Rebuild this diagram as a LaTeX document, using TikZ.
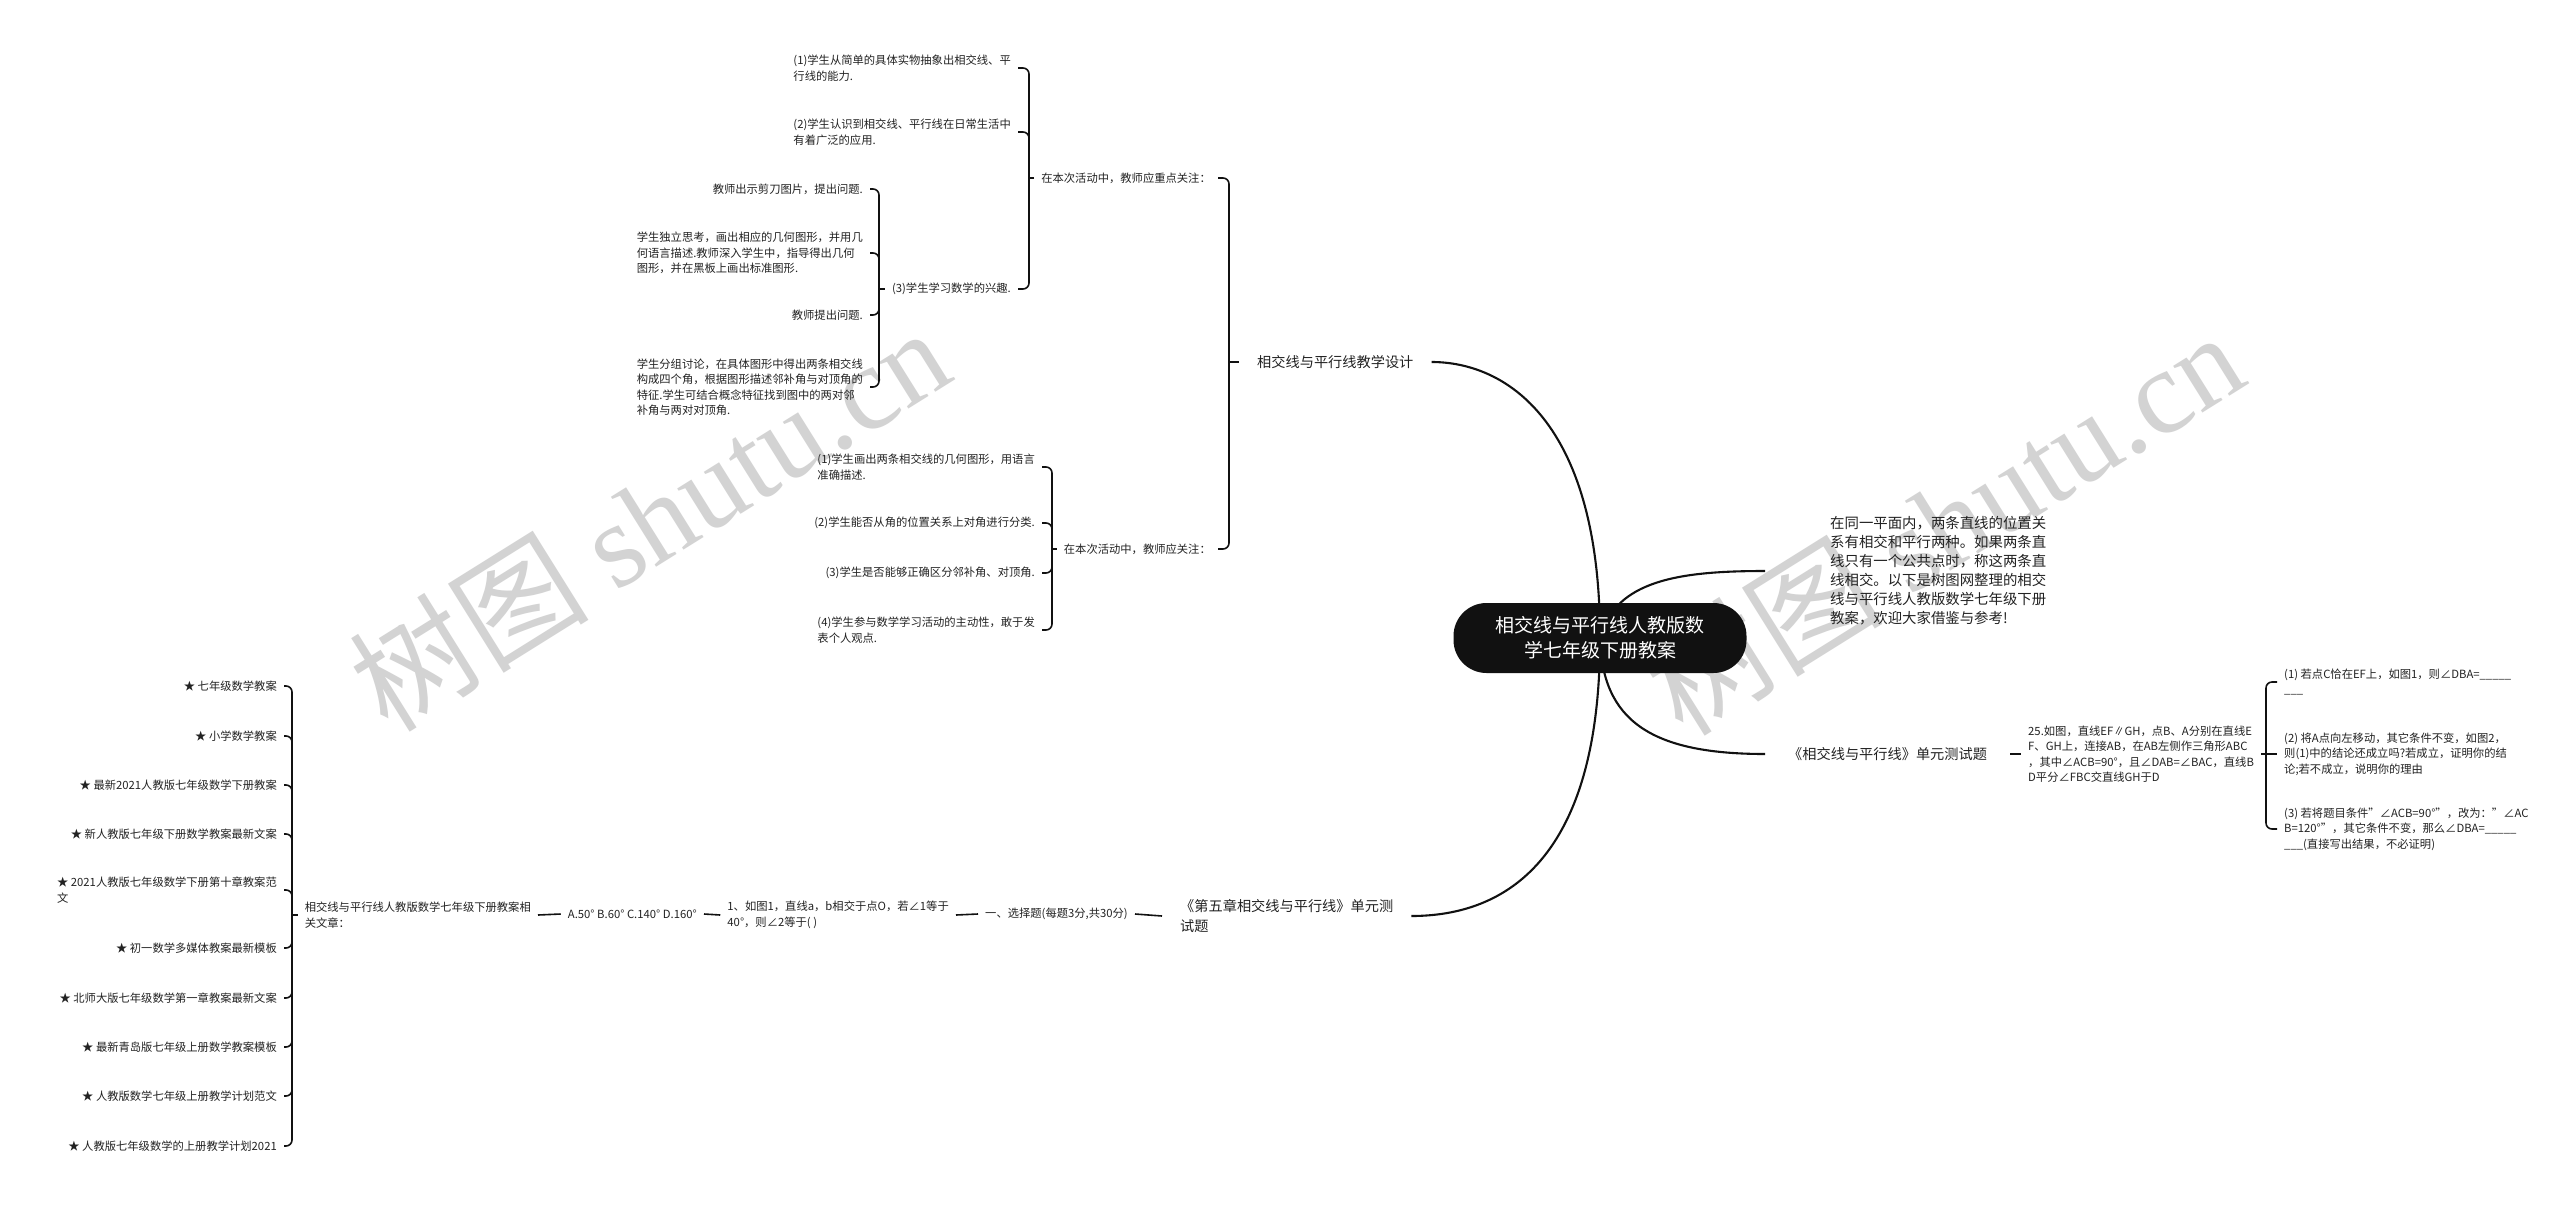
\documentclass[tikz,border=0pt]{standalone}
\usepackage{fontspec}
\setmainfont{Noto Sans CJK SC}
\newfontfamily\wmserif{Liberation Serif}
\definecolor{txt}{HTML}{222222}
\definecolor{ln}{HTML}{111111}
\definecolor{rootc}{HTML}{111111}
\definecolor{wm}{HTML}{D3D3D3}
\begin{document}
\begin{tikzpicture}[x=1pt,y=-1pt,
  sm/.style={font=\fontsize{11.3}{15.5}\selectfont, text=txt, inner xsep=7pt, inner ysep=2pt},
  smL/.style={sm, align=left},
  smR/.style={sm, align=right},
  big/.style={font=\fontsize{14.2}{19.5}\selectfont, text=txt, inner xsep=18pt, inner ysep=2pt, align=left},
  conn/.style={line width=1.6pt, draw=ln},
  hook/.style={conn, rounded corners=6pt},
  main/.style={line width=2.1pt, draw=ln},
  rootbox/.style={fill=rootc, text=white, rounded corners=33pt, minimum width=293pt, minimum height=70pt, align=center, font=\fontsize{19}{25}\selectfont, inner sep=0pt},
  wmark/.style={rotate=32, text=wm, font=\fontsize{120}{120}\selectfont, inner sep=0pt}
]
\useasboundingbox[fill=white] (0,0) rectangle (2560,1205);

% watermarks
\node[wmark] (wm1) at (649,518) {树图 {\wmserif shutu.cn}};
\node[wmark] (wm2) at (1943,522) {树图 {\wmserif shutu.cn}};

% ---------- branch A ----------
\node[big, anchor=west] (A) at (1239,362) {相交线与平行线教学设计};
\node[smR, anchor=east] (A1) at (1218,178) {在本次活动中，教师应重点关注：};
\node[smR, anchor=east] (A2) at (1218,549) {在本次活动中，教师应关注：};

\node[smL, anchor=east] (A1a) at (1018,68) {(1)学生从简单的具体实物抽象出相交线、平\\行线的能力.};
\node[smL, anchor=east] (A1b) at (1018,132) {(2)学生认识到相交线、平行线在日常生活中\\有着广泛的应用.};
\node[smR, anchor=east] (A1c) at (1018,289) {(3)学生学习数学的兴趣.};

\node[smR, anchor=east] (A1c1) at (870,189) {教师出示剪刀图片，提出问题.};
\node[smL, anchor=east] (A1c2) at (870,253) {学生独立思考，画出相应的几何图形，并用几\\何语言描述.教师深入学生中，指导得出几何\\图形，并在黑板上画出标准图形.};
\node[smR, anchor=east] (A1c3) at (870,315) {教师提出问题.};
\node[smL, anchor=east] (A1c4) at (870,387) {学生分组讨论，在具体图形中得出两条相交线\\构成四个角，根据图形描述邻补角与对顶角的\\特征.学生可结合概念特征找到图中的两对邻\\补角与两对对顶角.};

\node[smL, anchor=east] (A2a) at (1042,467) {(1)学生画出两条相交线的几何图形，用语言\\准确描述.};
\node[smR, anchor=east] (A2b) at (1042,523) {(2)学生能否从角的位置关系上对角进行分类.};
\node[smR, anchor=east] (A2c) at (1042,573) {(3)学生是否能够正确区分邻补角、对顶角.};
\node[smL, anchor=east] (A2d) at (1042,630) {(4)学生参与数学学习活动的主动性，敢于发\\表个人观点.};

\coordinate (tA) at (1229,362);
\coordinate (tA1) at (1029,178);
\coordinate (tA1c) at (879,289);
\coordinate (tA2) at (1052,549);

\draw[conn] (A.west) -- (tA);
\draw[hook] (tA) |- (A1.east);
\draw[hook] (tA) |- (A2.east);

\draw[conn] (A1.west) -- (tA1);
\draw[hook] (tA1) |- (A1a.east);
\draw[hook] (tA1) |- (A1b.east);
\draw[hook] (tA1) |- (A1c.east);

\draw[conn] (A1c.west) -- (tA1c);
\draw[hook] (tA1c) |- (A1c1.east);
\draw[hook] (tA1c) |- (A1c2.east);
\draw[hook] (tA1c) |- (A1c3.east);
\draw[hook] (tA1c) |- (A1c4.east);

\draw[conn] (A2.west) -- (tA2);
\draw[hook] (tA2) |- (A2a.east);
\draw[hook] (tA2) |- (A2b.east);
\draw[hook] (tA2) |- (A2c.east);
\draw[hook] (tA2) |- (A2d.east);

% ---------- intro ----------
\node[font=\fontsize{14.4}{19}\selectfont, text=txt, align=left, anchor=west, inner xsep=65pt, inner ysep=2pt] (intro) at (1765,571) {在同一平面内，两条直线的位置关\\系有相交和平行两种。如果两条直\\线只有一个公共点时，称这两条直\\线相交。以下是树图网整理的相交\\线与平行线人教版数学七年级下册\\教案，欢迎大家借鉴与参考!};

% ---------- branch C ----------
\node[big, anchor=west, inner xsep=23pt] (C) at (1765,754) {《相交线与平行线》单元测试题};
\node[smL, anchor=west] (C1) at (2021,754) {25.如图，直线EF∥GH，点B、A分别在直线E\\F、GH上，连接AB，在AB左侧作三角形ABC\\，其中∠ACB=90°，且∠DAB=∠BAC，直线B\\D平分∠FBC交直线GH于D};
\node[smL, anchor=west] (C1a) at (2277,682) {(1) 若点C恰在EF上，如图1，则∠DBA=\_\_\_\_\_\\\_\_\_};
\node[smL, anchor=west] (C1b) at (2277,754) {(2) 将A点向左移动，其它条件不变，如图2，\\则(1)中的结论还成立吗?若成立，证明你的结\\论;若不成立，说明你的理由};
\node[smL, anchor=west] (C1c) at (2277,829) {(3) 若将题目条件"∠ACB=90°"，改为："∠AC\\B=120°"，其它条件不变，那么∠DBA=\_\_\_\_\_\\\_\_\_(直接写出结果，不必证明)};

\coordinate (tC) at (2266,754);
\draw[conn] (C.east) -- (C1.west);
\draw[conn] (C1.east) -- (tC);
\draw[hook] (tC) |- (C1a.west);
\draw[conn] (tC) -- (C1b.west);
\draw[hook] (tC) |- (C1c.west);

% ---------- branch B ----------
\node[big, anchor=west] (B) at (1162,916) {《第五章相交线与平行线》单元测\\试题};
\node[smR, anchor=east] (B1) at (1135,914) {一、选择题(每题3分,共30分)};
\node[smL, anchor=east] (B2) at (956,915) {1、如图1，直线a，b相交于点O，若∠1等于\\40°，则∠2等于( )};
\node[smR, anchor=east] (B3) at (704,914) {A.50° B.60° C.140° D.160°};
\node[smL, anchor=east] (B4) at (538,915) {相交线与平行线人教版数学七年级下册教案相\\关文章：};

\draw[conn] (B.west) -- (B1.east);
\draw[conn] (B1.west) -- (B2.east);
\draw[conn] (B2.west) -- (B3.east);
\draw[conn] (B3.west) -- (B4.east);

\node[smR, anchor=east] (L1) at (284,686) {★ 七年级数学教案};
\node[smR, anchor=east] (L2) at (284,736) {★ 小学数学教案};
\node[smR, anchor=east] (L3) at (284,785) {★ 最新2021人教版七年级数学下册教案};
\node[smR, anchor=east] (L4) at (284,834) {★ 新人教版七年级下册数学教案最新文案};
\node[smL, anchor=east] (L5) at (284,890) {★ 2021人教版七年级数学下册第十章教案范\\文};
\node[smR, anchor=east] (L6) at (284,948) {★ 初一数学多媒体教案最新模板};
\node[smR, anchor=east] (L7) at (284,998) {★ 北师大版七年级数学第一章教案最新文案};
\node[smR, anchor=east] (L8) at (284,1047) {★ 最新青岛版七年级上册数学教案模板};
\node[smR, anchor=east] (L9) at (284,1096) {★ 人教版数学七年级上册教学计划范文};
\node[smR, anchor=east] (L10) at (284,1146) {★ 人教版七年级数学的上册教学计划2021};

\coordinate (tL) at (292,915);
\draw[conn] (B4.west) -- (tL);
\foreach \i in {1,...,10} {\draw[hook] (tL) |- (L\i.east);}

% ---------- root and main curves ----------
\coordinate (rc) at (1600,638);
\draw[main] (rc) .. controls (1600,420) and (1505,362) .. (A.east);
\draw[main] (rc) .. controls (1600,860) and (1505,916) .. (B.east);
\draw[main] (rc) .. controls (1615,580) and (1680,571) .. (intro.west);
\draw[main] (rc) .. controls (1602,720) and (1650,754) .. (C.west);
\node[rootbox] (root) at (rc) {相交线与平行线人教版数\\学七年级下册教案};
\end{tikzpicture}
\end{document}
